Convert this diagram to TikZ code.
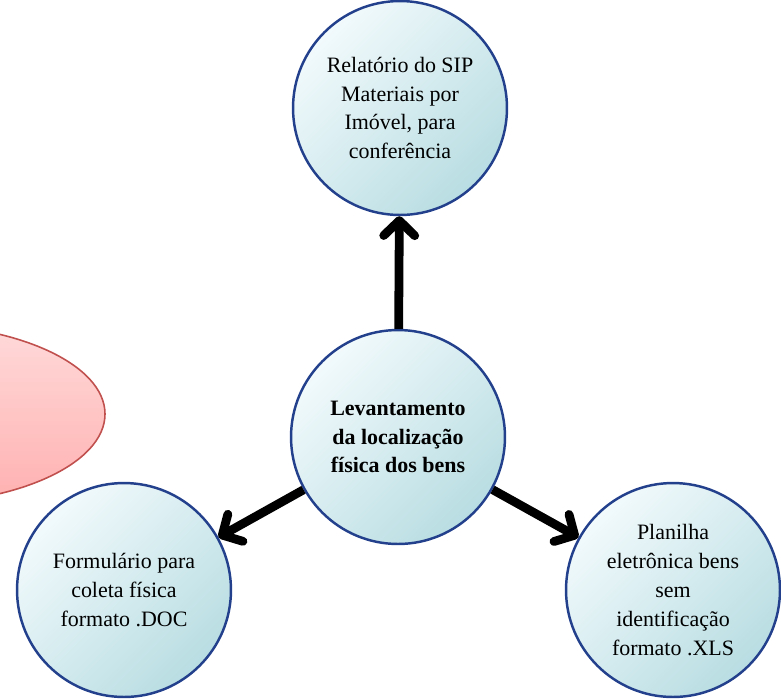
\documentclass[tikz,border=0pt]{standalone}
\usepackage{fontspec}
\setmainfont{Liberation Serif}
\usetikzlibrary{arrows.meta}

\definecolor{bordaazul}{HTML}{22408C}
\definecolor{cianoclaro}{HTML}{F2FAFC}
\definecolor{cianoescuro}{HTML}{B8DDE2}
\definecolor{rosaclaro}{HTML}{FFDADA}
\definecolor{rosaescuro}{HTML}{FFB0B0}
\definecolor{bordarosa}{HTML}{C0504D}

\begin{document}
\begin{tikzpicture}[x=0.02cm, y=-0.02cm, font=\fontsize{12.5}{16.4}\selectfont,
    bolha/.style={circle, draw=bordaazul, line width=1.4pt, minimum size=4.28cm,
        top color=cianoclaro, bottom color=cianoescuro, shading angle=45, align=center, inner sep=0pt},
    seta/.style={line width=5pt, -{Straight Barb[length=0.3cm, width=0.62cm, round]}}]
    \useasboundingbox (0,0) rectangle (781,698);
    \clip (0,0) rectangle (781,698);
    % elipse cortada na margem esquerda
    \draw[bordarosa, line width=0.9pt, top color=rosaclaro, bottom color=rosaescuro]
        (-92,414) ellipse [x radius=197, y radius=90];
    \node[bolha] (levant) at (398,437) {\bfseries Levantamento\\ \bfseries da localização\\ \bfseries física dos bens};
    \node[bolha] (relat) at (400,108) {Relatório do SIP\\ Materiais por\\ Imóvel, para\\ conferência};
    \node[bolha] (form) at (124,590) {Formulário para\\ coleta física\\ formato .DOC};
    \node[bolha] (plan) at (673,590) {Planilha\\ eletrônica bens\\ sem\\ identificação\\ formato .XLS};
    \draw[seta] (levant) -- (relat);
    \draw[seta] (levant) -- (form);
    \draw[seta] (levant) -- (plan);
\end{tikzpicture}
\end{document}
